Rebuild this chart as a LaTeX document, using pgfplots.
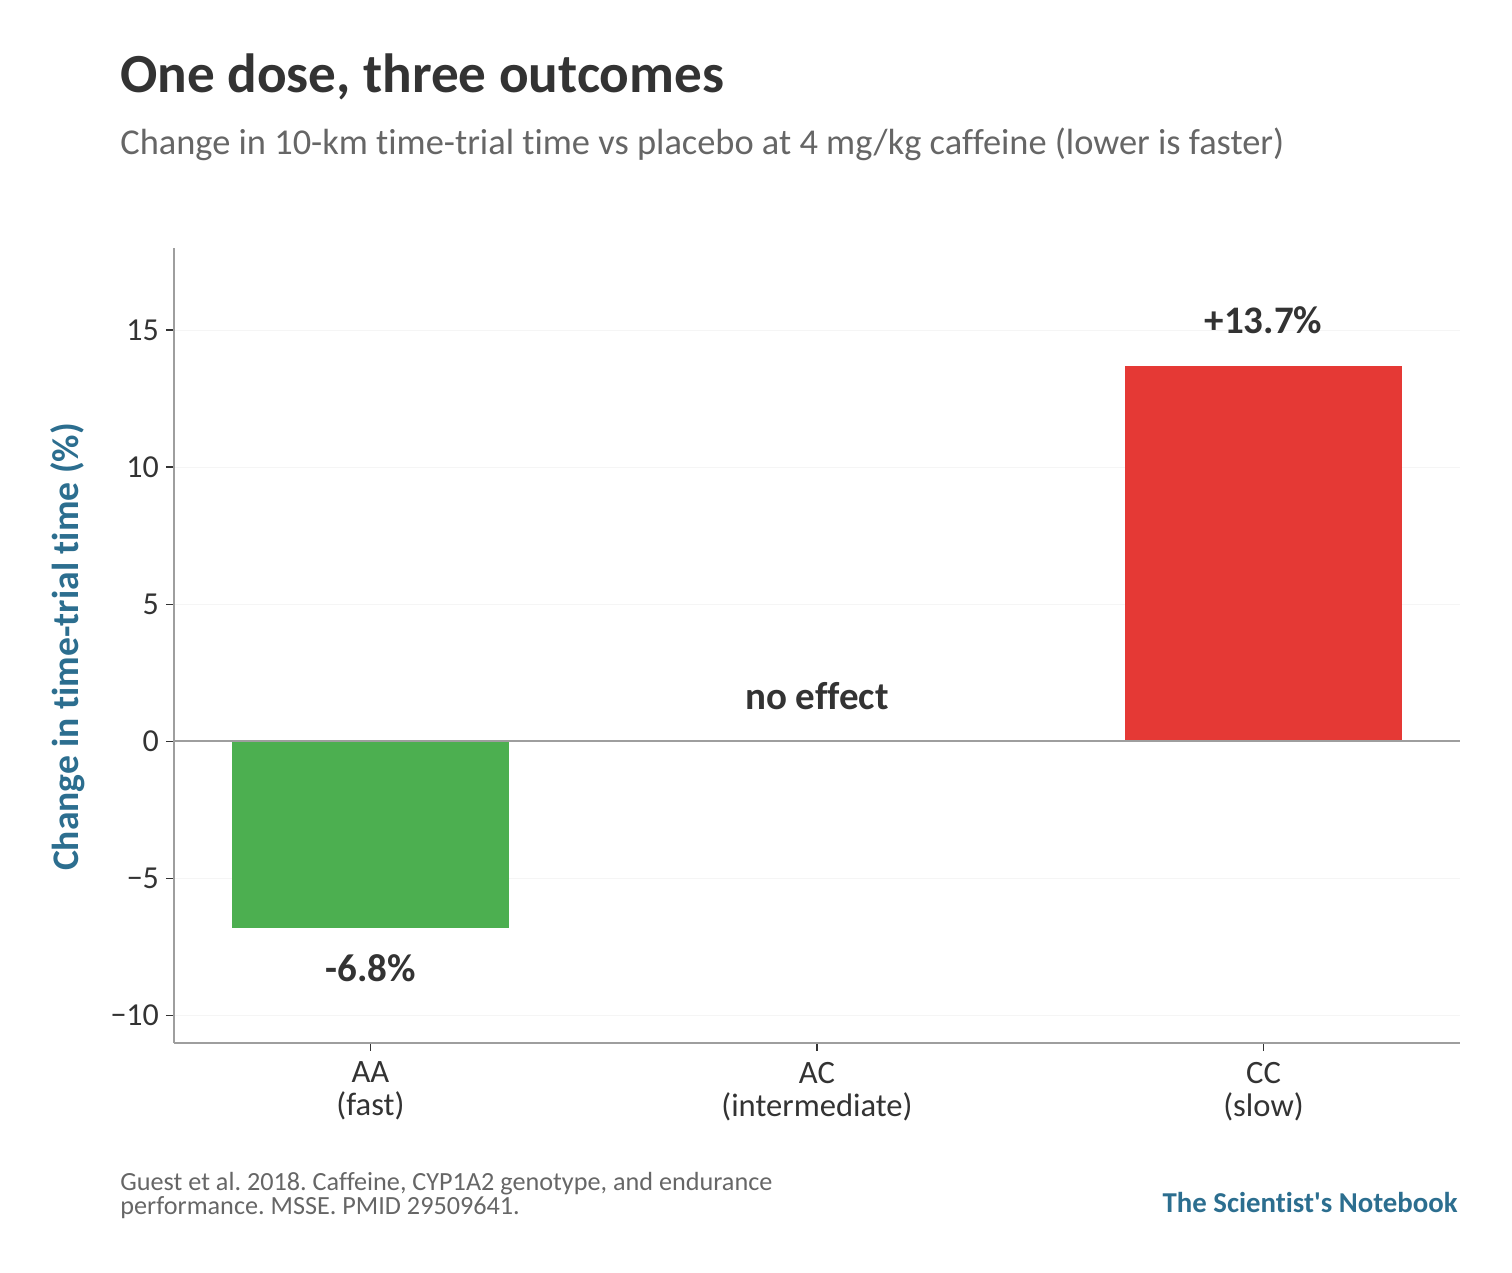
\documentclass[border=0pt]{standalone}
\usepackage{pgfplots}
\pgfplotsset{compat=1.18}
\usepackage{fontspec}
\setmainfont{Carlito}[Ligatures={NoCommon}]
\frenchspacing
\definecolor{barG}{HTML}{4CAF50}
\definecolor{barR}{HTML}{E53935}
\definecolor{spine}{HTML}{9E9E9E}
\definecolor{txt}{HTML}{333333}
\definecolor{sub}{HTML}{666666}
\definecolor{teal}{HTML}{2C6E8F}
\begin{document}
\begin{tikzpicture}[x=0.5pt,y=0.5pt]
\path[use as bounding box] (0,0) rectangle (1512,1273);
\begin{axis}[
  at={(87pt,115pt)}, anchor=south west,
  scale only axis, width=643pt, height=397.5pt,
  xmin=-0.44, xmax=2.44, ymin=-11, ymax=18,
  axis x line*=bottom, axis y line*=left,
  axis line style={spine, line width=1pt},
  xtick={0,1,2},
  xticklabels={{AA\\(fast)},{AC\\(intermediate)},{CC\\(slow)}},
  xticklabel style={align=center, text=txt, font=\fontsize{16.3}{16.5}\selectfont, yshift=-2pt},
  ytick={-10,-5,0,5,10,15},
  yticklabels={−10,−5,0,5,10,15},
  yticklabel style={text=txt, font=\fontsize{16}{18}\selectfont},
  tick style={txt, line width=0.8pt},
  tick align=outside, major tick length=4pt,
  ymajorgrids, grid style={gray!8, line width=0.5pt},
  ybar, bar width=0.62, bar shift=0pt,
  clip=false,
]
\addplot[fill=barG, draw=none] coordinates {(0,-6.8)};
\addplot[fill=barG, draw=none] coordinates {(1,0)};
\addplot[fill=barR, draw=none] coordinates {(2,13.7)};
\draw[spine, line width=1pt] (axis cs:-0.44,0) -- (axis cs:2.44,0);
\node[text=txt, font=\fontsize{19.5}{22}\selectfont\bfseries] at (axis cs:0,-8.27) {-6.8\%};
\node[text=txt, font=\fontsize{19.5}{22}\selectfont\bfseries] at (axis cs:1,1.65) {no effect};
\node[text=txt, font=\fontsize{19.5}{22}\selectfont\bfseries] at (axis cs:2,15.37) {+13.7\%};
\end{axis}
\node[rotate=90, text=teal, font=\fontsize{18.8}{22}\selectfont\bfseries] at (68,626) {Change in time-trial time (\%)};
\node[anchor=base west, text=txt, font=\fontsize{27.6}{32}\selectfont\bfseries, inner sep=0pt] at (120,1180) {One dose, three outcomes};
\node[anchor=base west, text=sub, font=\fontsize{18.2}{22}\selectfont, inner sep=0pt] at (120,1118) {Change in 10-km time-trial time vs placebo at 4 mg/kg caffeine (lower is faster)};
\node[anchor=north west, text=sub, font=\fontsize{13.1}{12}\selectfont, inner sep=0pt, align=left] at (120,101) {Guest et al. 2018. Caffeine, CYP1A2 genotype, and endurance\\performance. MSSE. PMID 29509641.};
\node[anchor=base east, text=teal, font=\fontsize{14.4}{17}\selectfont\bfseries, inner sep=0pt] at (1458,60) {The Scientist\textquotesingle s Notebook};
\end{tikzpicture}
\end{document}
